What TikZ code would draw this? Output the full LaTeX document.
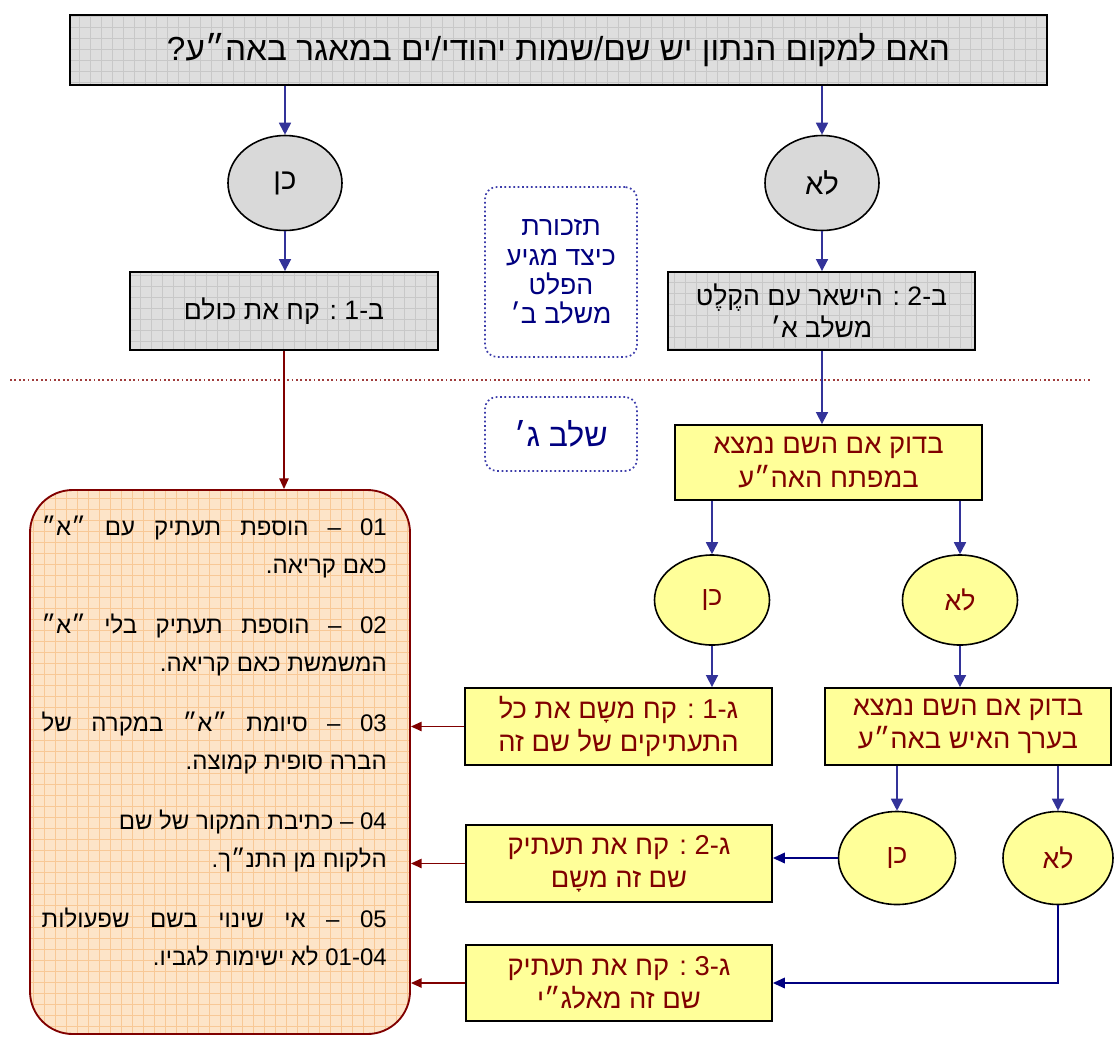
\documentclass[tikz,border=0pt]{standalone}
\usepackage{fontspec}
\newfontfamily\heb[Script=Hebrew]{Liberation Sans}
\usetikzlibrary{arrows.meta,shapes.geometric}
\TeXXeTstate=1
\definecolor{ablue}{RGB}{51,51,153}
\definecolor{anavy}{RGB}{0,0,128}
\definecolor{ared}{RGB}{128,0,0}
\definecolor{dotred}{RGB}{160,60,60}
\definecolor{dotblue}{RGB}{60,60,170}
\definecolor{boxgray}{RGB}{222,222,222}
\definecolor{gridgray}{RGB}{200,200,200}
\definecolor{ellgray}{RGB}{217,217,217}
\definecolor{yel}{RGB}{255,255,153}
\definecolor{peach}{RGB}{253,228,200}
\definecolor{peachgrid}{RGB}{248,200,150}
\definecolor{txtred}{RGB}{128,0,0}
\newcommand\RL[1]{\beginR #1\endR}
\newcommand\jline[1]{\hbox to \hsize{\beginR #1\endR}}
\newcommand\rline[1]{\hbox to \hsize{\hfill\beginR #1\endR}}
\begin{document}
\begin{tikzpicture}[x=0.75pt,y=-0.75pt,
  graybox/.style={rectangle, draw=black, line width=1.4pt, fill=boxgray, inner sep=0pt, align=center,
    font=\heb\fontsize{20}{23.5}\selectfont,
    path picture={\draw[gridgray, line width=0.4pt, step=8.25pt] (path picture bounding box.south west) grid (path picture bounding box.north east);}},
  grayell/.style={ellipse, draw=black, line width=1.2pt, fill=ellgray, inner sep=0pt,
    font=\heb\fontsize{22}{26}\selectfont},
  yelbox/.style={rectangle, draw=black, line width=1.4pt, fill=yel, inner sep=0pt, align=center,
    text=txtred, font=\heb\fontsize{20.5}{25}\selectfont},
  yelell/.style={ellipse, draw=black, line width=1.2pt, fill=yel, inner sep=0pt, text=txtred,
    font=\heb\fontsize{20}{24}\selectfont},
  dotbox/.style={rectangle, rounded corners=9pt, draw=dotblue, line width=1.3pt, dotted, inner sep=0pt,
    align=center, text=anavy},
  barrow/.style={draw=ablue, line width=1.3pt, -{Triangle[width=9pt,length=9pt]}},
  narrow/.style={draw=anavy, line width=1.1pt, -{Triangle[width=8pt,length=9pt]}},
  rarrow/.style={draw=ared, line width=1.1pt, -{Triangle[width=7pt,length=8pt]}}
]
\useasboundingbox (0,0) rectangle (1114,1036);

% top question
\node[graybox, minimum width=732.75pt, minimum height=52.5pt, font=\heb\fontsize{25}{29}\selectfont] (top) at (558.5,50)
  {\RL{האם למקום הנתון יש שם/שמות יהודי/ים במאגר באה״ע?}};

% stage B
\node[grayell, minimum width=85.5pt, minimum height=71.25pt] (ellL) at (285,183) {\RL{כן}};
\node[grayell, minimum width=85.5pt, minimum height=71.25pt] (ellR) at (822,183) {\RL{לא}};
\node[graybox, minimum width=231pt, minimum height=58.5pt] (b1) at (284,311) {\RL{ב-1 : קח את כולם}};
\node[graybox, minimum width=230.25pt, minimum height=58.5pt] (b2) at (821.5,311)
  {\RL{ב-2 : הישאר עם הקֶלֶט}\\\RL{משלב א׳}};

% reminder and stage label
\node[dotbox, minimum width=114pt, minimum height=127.5pt, font=\heb\fontsize{20}{22}\selectfont] (remind) at (561,272)
  {\RL{תזכורת}\\\RL{כיצד מגיע}\\\RL{הפלט}\\\RL{משלב ב׳}};
\node[dotbox, minimum width=114pt, minimum height=55.5pt, font=\heb\fontsize{24}{28}\selectfont] (stage) at (561,434)
  {\RL{שלב ג׳}};

% separator
\coordinate (sepL) at (10,380);
\coordinate (sepR) at (1092,380);
\draw[dotred, line width=1.3pt, dotted] (sepL) -- (sepR);

% stage C
\node[yelbox, minimum width=230.25pt, minimum height=56.25pt] (y1) at (828.5,462.5)
  {\RL{בדוק אם השם נמצא}\\\RL{במפתח האה״ע}};
\node[yelell, minimum width=86.25pt, minimum height=67.5pt] (yk) at (712,600) {\RL{כן}};
\node[yelell, minimum width=86.25pt, minimum height=67.5pt] (yl) at (960,600) {\RL{לא}};
\node[yelbox, minimum width=230.25pt, minimum height=57.75pt] (g1) at (618.5,726.5)
  {\RL{ג-1 : קח משָם את כל}\\\RL{התעתיקים של שם זה}};
\node[yelbox, minimum width=214.5pt, minimum height=57.75pt] (chk2) at (968,726.5)
  {\RL{בדוק אם השם נמצא}\\\RL{בערך האיש באה״ע}};
\node[yelell, minimum width=87.75pt, minimum height=69.75pt] (ek) at (897,858) {\RL{כן}};
\node[yelell, minimum width=82.5pt, minimum height=69.75pt] (el) at (1058,858) {\RL{לא}};
\node[yelbox, minimum width=229.5pt, minimum height=57.75pt] (g2) at (619,863.5)
  {\RL{ג-2 : קח את תעתיק}\\\RL{שם זה משָם}};
\node[yelbox, minimum width=229.5pt, minimum height=57pt] (g3) at (619,983)
  {\RL{ג-3 : קח את תעתיק}\\\RL{שם זה מאלג״י}};

% big rules box
\node[rectangle, rounded corners=32pt, draw=ared, line width=1.4pt, fill=peach, inner sep=0pt,
  minimum width=285pt, minimum height=408pt,
  path picture={\draw[peachgrid, line width=0.4pt, step=8.25pt] (path picture bounding box.south west) grid (path picture bounding box.north east);}]
  (big) at (220,762) {};
\node[anchor=north east, inner sep=0pt] (bigtext) at (387,516)
  {\heb\fontsize{18}{28}\selectfont
   \vbox{\hsize=258.75pt
   \jline{01 – הוספת תעתיק עם ״א״}
   \rline{כאם קריאה.}
   \vskip17.5pt
   \jline{02 – הוספת תעתיק בלי ״א״}
   \rline{המשמשת כאם קריאה.}
   \vskip17.5pt
   \jline{03 – סיומת ״א״ במקרה של}
   \rline{הברה סופית קמוצה.}
   \vskip17.5pt
   \rline{04 – כתיבת המקור של שם}
   \rline{הלקוח מן התנ״ך.}
   \vskip17.5pt
   \jline{05 – אי שינוי בשם שפעולות}
   \rline{01-04 לא ישימות לגביו.}}};

% connectors
\draw[barrow] (top.south -| ellL.north) -- (ellL.north);
\draw[barrow] (top.south -| ellR.north) -- (ellR.north);
\draw[barrow] (ellL.south) -- (ellL.south |- b1.north);
\draw[barrow] (ellR.south) -- (ellR.south |- b2.north);
\draw[rarrow] (b1.south) -- (b1.south |- big.north);
\draw[barrow] (ellR.south |- b2.south) -- (ellR.south |- y1.north);
\draw[barrow] (y1.south -| yk.north) -- (yk.north);
\draw[barrow] (y1.south -| yl.north) -- (yl.north);
\draw[barrow] (yk.south) -- (yk.south |- g1.north);
\draw[barrow] (yl.south) -- (yl.south |- chk2.north);
\draw[barrow] (chk2.south -| ek.north) -- (ek.north);
\draw[barrow] (chk2.south -| el.north) -- (el.north);
\draw[narrow] (ek.west) -- (ek.west -| g2.east);
\draw[narrow] (el.south) |- (g3.east);
\draw[rarrow] (g1.west) -- (g1.west -| big.east);
\draw[rarrow] (g2.west) -- (g2.west -| big.east);
\draw[rarrow] (g3.west) -- (g3.west -| big.east);
\end{tikzpicture}
\end{document}
